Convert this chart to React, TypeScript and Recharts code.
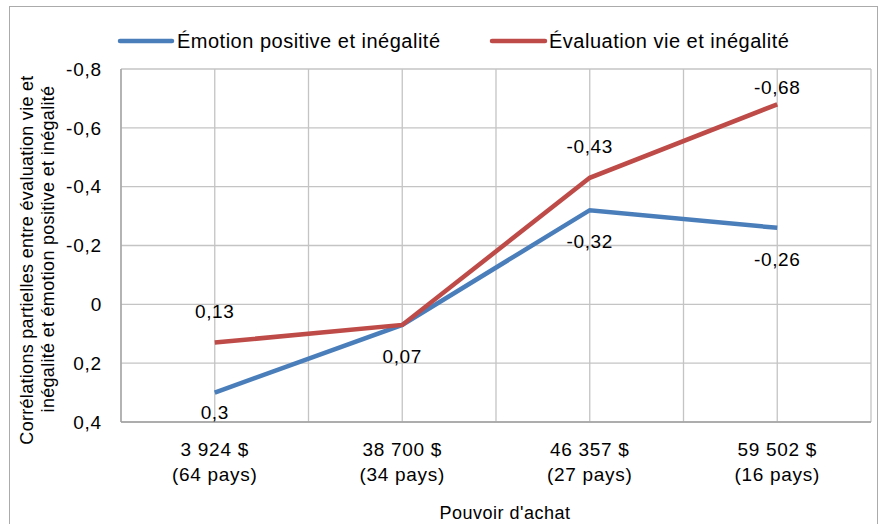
import React from 'react';
import { LineChart, Line, XAxis, YAxis, CartesianGrid } from 'recharts';

const incomes = ['3 924 $', '38 700 $', '46 357 $', '59 502 $'];
const countries = ['(64 pays)', '(34 pays)', '(27 pays)', '(16 pays)'];
const emotion = [0.3, 0.07, -0.32, -0.26];
const evaluation = [0.13, 0.07, -0.43, -0.68];
const yTicks = [-0.8, -0.6, -0.4, -0.2, 0, 0.2, 0.4];
const seriesNames = ['Émotion positive et inégalité', 'Évaluation vie et inégalité'];
const yTitle = ['Corrélations partielles entre évaluation vie et', 'inégalité et émotion positive et inégalité'];
const xTitle = "Pouvoir d'achat";

const data = incomes.map((inc, i) => ({
  income: inc,
  countries: countries[i],
  emotion: emotion[i],
  evaluation: evaluation[i],
}));

const FONT = '"Liberation Sans", Arial, sans-serif';
const BLUE = '#4A7EBB';
const RED = '#BE4B48';
const W = 881;
const H = 524;
const PLOT_TOP = 69;
const PLOT_BOTTOM = 422;

const fmt = (v: number) => String(v).replace('.', ',');

const XTick = (props: any) => {
  const { x, y, payload, index } = props;
  return (
    <g transform={`translate(${x},${y})`}>
      <text textAnchor="middle" fontFamily={FONT} fontSize={19} letterSpacing={0.7} fill="#000">
        <tspan x={0} dy={32}>{payload.value}</tspan>
        <tspan x={0} dy={25}>{countries[index] ?? data.find(d => d.income === payload.value)?.countries}</tspan>
      </text>
    </g>
  );
};

const makeLabel = (dir: number, hidden: number[]) => (p: any) => {
  if (hidden.includes(p.index)) return null;
  let cy = p.y + dir * 31;
  cy = Math.max(PLOT_TOP + 18, Math.min(PLOT_BOTTOM - 10, cy));
  return (
    <text
      key={`lbl-${dir}-${p.index}`}
      x={p.x}
      y={cy}
      dy="0.35em"
      textAnchor="middle"
      fontFamily={FONT}
      fontSize={19}
      letterSpacing={0.6}
      fill="#000"
    >
      {fmt(p.value)}
    </text>
  );
};

export default function App() {
  return (
    <div style={{ position: 'absolute', left: 0, top: 0, width: W, height: H, background: '#fff', overflow: 'hidden' }}>
      <div
        style={{
          position: 'absolute',
          left: 9,
          top: 6,
          width: 869,
          height: 540,
          border: '1px solid #ABABAB',
          boxSizing: 'border-box',
        }}
      />
      <div style={{ position: 'absolute', left: 0, top: 0 }}>
        <LineChart width={W} height={H} data={data} margin={{ top: PLOT_TOP, right: 10, bottom: 42, left: 0 }}>
          <CartesianGrid
            stroke="#C4C4C4"
            strokeWidth={1.3}
            verticalCoordinatesGenerator={({ offset }: any) =>
              Array.from({ length: 9 }, (_, i) => offset.left + (i * offset.width) / 8)
            }
          />
          <XAxis
            dataKey="income"
            type="category"
            padding={{ left: 93.75, right: 93.75 }}
            height={60}
            tickSize={0}
            tickLine={false}
            axisLine={{ stroke: '#A0A0A0', strokeWidth: 1.3 }}
            tick={<XTick />}
            interval={0}
          />
          <YAxis
            type="number"
            domain={[-0.8, 0.4]}
            reversed
            ticks={yTicks}
            width={121}
            tickSize={0}
            tickMargin={19}
            tickLine={false}
            axisLine={{ stroke: '#A0A0A0', strokeWidth: 1.3 }}
            tickFormatter={fmt}
            tick={{ fontFamily: FONT, fontSize: 19, fill: '#000', letterSpacing: 0.8 }}
            interval={0}
          />
          <Line
            dataKey="emotion"
            name={seriesNames[0]}
            stroke={BLUE}
            strokeWidth={4.5}
            dot={false}
            isAnimationActive={false}
            label={makeLabel(1, [])}
          />
          <Line
            dataKey="evaluation"
            name={seriesNames[1]}
            stroke={RED}
            strokeWidth={4.5}
            dot={false}
            isAnimationActive={false}
            label={makeLabel(-1, [1])}
          />
        </LineChart>
      </div>
      <svg width={W} height={H} style={{ position: 'absolute', left: 0, top: 0, pointerEvents: 'none' }}>
        <line x1={120} y1={41} x2={172} y2={41} stroke={BLUE} strokeWidth={4.5} strokeLinecap="round" />
        <text x={177} y={48} fontFamily={FONT} fontSize={20} letterSpacing={0.5} fill="#000">{seriesNames[0]}</text>
        <line x1={492} y1={41} x2={545} y2={41} stroke={RED} strokeWidth={4.5} strokeLinecap="round" />
        <text x={549} y={48} fontFamily={FONT} fontSize={20} letterSpacing={0.5} fill="#000">{seriesNames[1]}</text>
        <text
          transform="translate(27,260) rotate(-90)"
          textAnchor="middle"
          dy="0.35em"
          fontFamily={FONT}
          fontSize={18}
          letterSpacing={0.3}
          fill="#000"
        >
          {yTitle[0]}
        </text>
        <text
          transform="translate(48,249) rotate(-90)"
          textAnchor="middle"
          dy="0.35em"
          fontFamily={FONT}
          fontSize={18}
          letterSpacing={0.3}
          fill="#000"
        >
          {yTitle[1]}
        </text>
        <text x={505} y={513} dy="0.35em" textAnchor="middle" fontFamily={FONT} fontSize={18} letterSpacing={0.5} fill="#000">
          {xTitle}
        </text>
      </svg>
    </div>
  );
}
